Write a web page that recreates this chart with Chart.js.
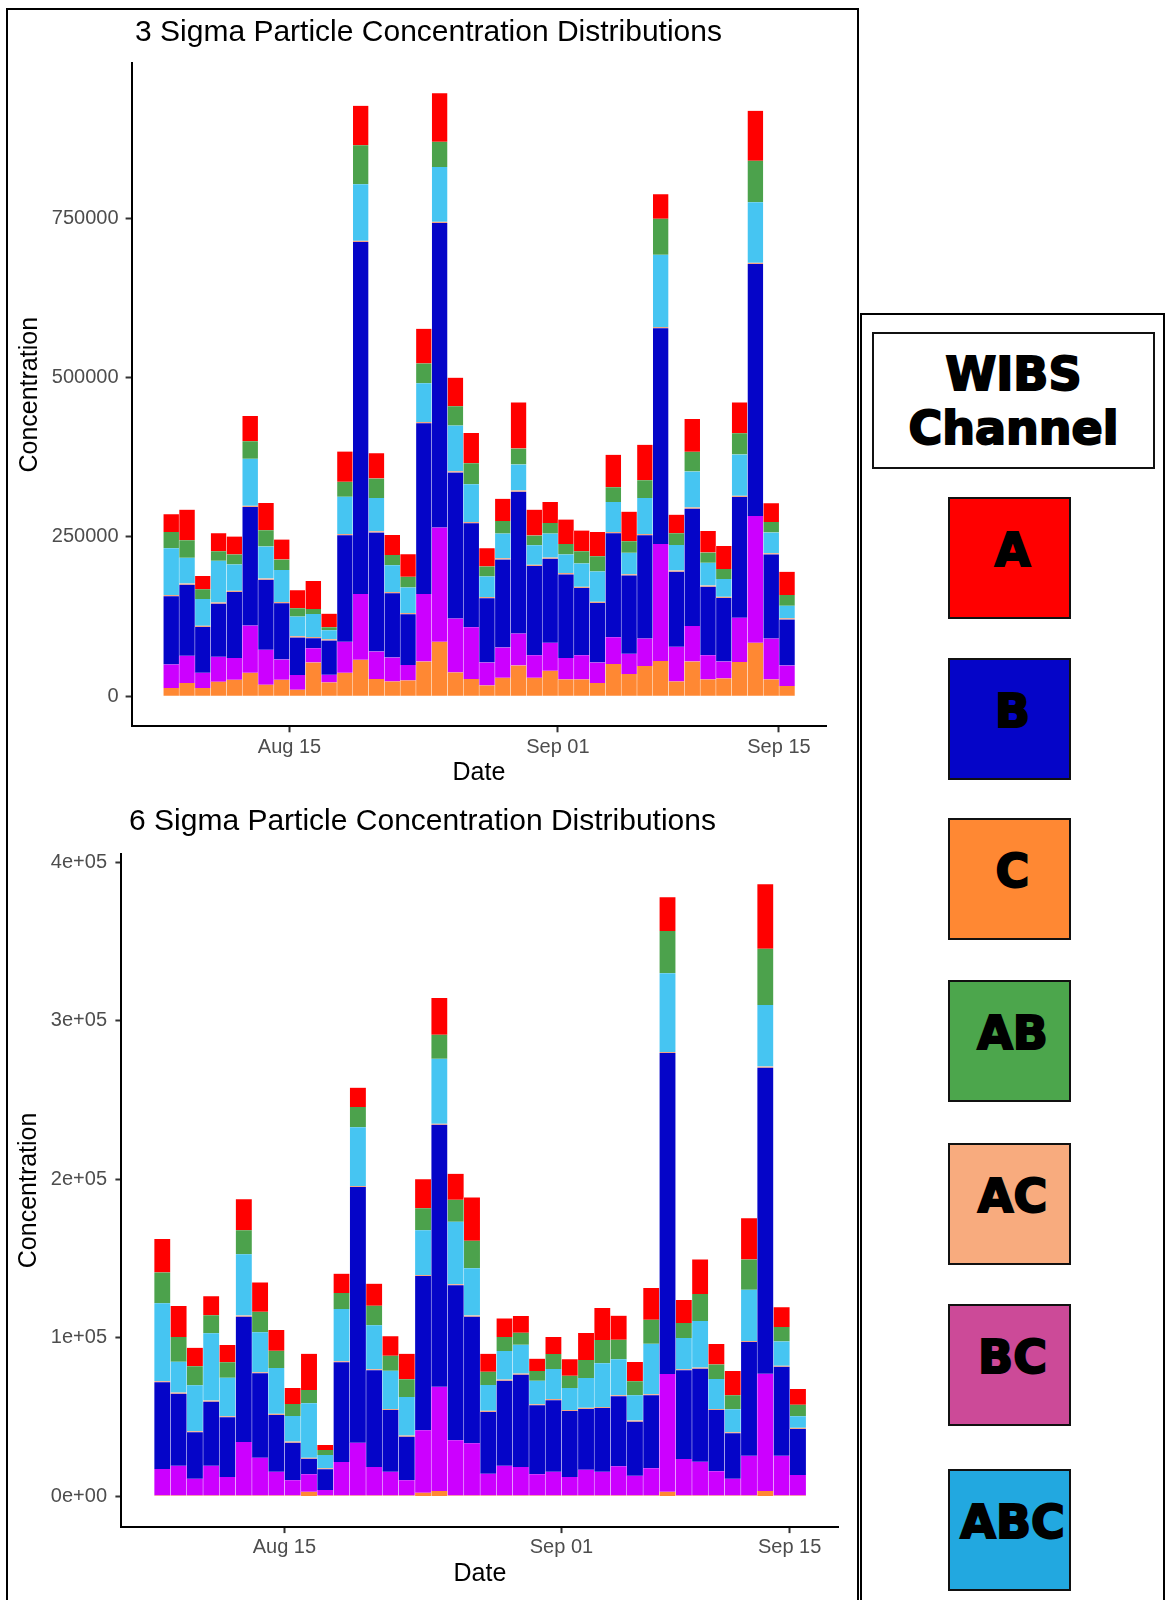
<!DOCTYPE html>
<html>
<head>
<meta charset="utf-8">
<title>WIBS particle concentration distributions</title>
<script src="https://cdn.jsdelivr.net/npm/chart.js@4.4.1/dist/chart.umd.min.js"></script>
<style>
  html, body { margin: 0; padding: 0; background: #fff; }
  body { width: 1165px; height: 1600px; position: relative; overflow: hidden; }
  #frame { position: absolute; left: 6px; top: 8px; width: 853px; height: 1620px;
           border: 2.5px solid #000; box-sizing: border-box; }
  canvas { position: absolute; left: 0; }
  #sigma3 { top: 0; }
  #sigma6 { top: 790px; }
  #legend { position: absolute; left: 860px; top: 313px; width: 305px; height: 1320px;
            border: 2.5px solid #000; box-sizing: border-box; }
  .legend-title, .swatch {
    position: absolute; box-sizing: border-box; border: 2px solid #111;
    display: flex; flex-direction: column; align-items: center; justify-content: center;
    font-family: "DejaVu Sans", sans-serif; font-weight: bold; font-size: 46px;
    color: #000; -webkit-text-stroke: 2px #000;
  }
  .legend-title { left: 872px; top: 332px; width: 283px; height: 137px; line-height: 54px; background: #fff; }
  .swatch { left: 948px; width: 123px; height: 122px; padding-bottom: 16px; padding-left: 6px; line-height: 1; }
</style>
</head>
<body>
<div id="frame"></div>
<canvas id="sigma3" width="857" height="790"></canvas>
<canvas id="sigma6" width="845" height="810"></canvas>
<div id="legend"></div>
<div id="legendItems"></div>
<script>
Chart.defaults.font.family = "'Liberation Sans', Arial, sans-serif";

// one bar per day, Aug 7 .. Sep 15 (day of August; Sep d = 31 + d)
const days = [7, 8, 9, 10, 11, 12, 13, 14, 15, 16, 17, 18, 19, 20, 21, 22, 23, 24, 25, 26,
              27, 28, 29, 30, 31, 32, 33, 34, 35, 36, 37, 38, 39, 40, 41, 42, 43, 44, 45, 46];
const dateTicks = [15, 32, 46];
const dateTickLabels = ["Aug 15", "Sep 01", "Sep 15"];

// stacking order, bottom to top
const channelOrder = ["C", "BC", "B", "AC", "ABC", "AB", "A"];
const barColors = ["#ff8833", "#cc00ff", "#0505c8", "#f4a582", "#46c5f2", "#4ca24c", "#ff0000"];

// 3 sigma threshold, particles per channel
const s3C = [12800, 20600, 12800, 22700, 25800, 36800, 18000, 25800, 10200, 52900, 21600, 36800, 57100, 26900, 23200, 24700, 54400, 85300, 37300, 26900,
             16900, 28900, 48200, 28900, 39900, 26300, 26300, 20600, 50400, 34700, 47200, 55100, 23200, 54400, 26300, 27900, 53500, 83700, 26300, 16000];
const s3BC = [37000, 42800, 24000, 39100, 34000, 74000, 54700, 31800, 22900, 22500, 12000, 48500, 103300, 43200, 37500, 24100, 106000, 179400, 84500, 81300,
              36000, 47500, 50100, 35500, 43800, 33500, 38100, 32300, 42200, 31800, 43200, 184000, 54200, 55900, 38100, 26500, 69800, 199200, 64100, 32200];
const s3B = [106900, 111500, 71900, 83400, 103700, 186200, 110100, 88200, 58900, 15600, 53700, 167400, 552700, 186800, 100700, 79800, 268000, 478100, 229400, 163200,
             100700, 138200, 222700, 139800, 131900, 131400, 105300, 93400, 163200, 123100, 162300, 338400, 117900, 184100, 107400, 99700, 189300, 395600, 132100, 72000];
const s3AC = [2000, 2000, 2000, 2000, 2000, 2000, 2000, 2000, 2000, 2000, 2000, 2000, 2000, 2000, 2000, 2000, 2000, 2000, 2000, 2000,
              2000, 2000, 2000, 2000, 2000, 2000, 2000, 2000, 2000, 2000, 2000, 2000, 2000, 2000, 2000, 2000, 2000, 2000, 2000, 2000];
const s3ABC = [73600, 40300, 41800, 65300, 41300, 73700, 50200, 50100, 30900, 36100, 14300, 58500, 88700, 52100, 42300, 40200, 60900, 86000, 71600, 59500,
               32400, 38700, 40700, 30800, 37700, 29300, 36700, 47600, 47000, 33400, 56300, 113500, 40200, 56400, 35500, 27700, 64800, 95000, 32400, 19900];
const s3AB = [25500, 27600, 15200, 15100, 15700, 27500, 25500, 16700, 13100, 7800, 4700, 23500, 61100, 30800, 16100, 16600, 31200, 39500, 30200, 32900,
              15700, 19700, 25100, 15200, 16600, 16600, 19200, 23900, 23400, 18300, 28200, 56700, 18300, 30800, 16300, 15700, 33300, 65300, 16600, 16700];
const s3A = [27700, 48000, 20800, 28200, 28100, 39700, 42700, 31300, 28100, 43800, 21200, 47400, 62000, 39600, 31300, 35500, 54400, 76200, 45100, 47500,
             28600, 35000, 72400, 40600, 32900, 38100, 32400, 38000, 50700, 46400, 55400, 38400, 29200, 51600, 33800, 36400, 48500, 78200, 29200, 36500];

// 6 sigma threshold
const s6C = [600, 600, 600, 600, 600, 600, 600, 600, 600, 3000, 600, 600, 600, 600, 600, 600, 2400, 3500, 600, 600,
             600, 600, 600, 600, 600, 600, 600, 600, 600, 600, 600, 3000, 600, 600, 600, 600, 600, 3500, 600, 600];
const s6BC = [16700, 18800, 10600, 18800, 11700, 33800, 23900, 15000, 9600, 11000, 3500, 21200, 33300, 18000, 15000, 9600, 39300, 65700, 34800, 32900,
              13800, 18800, 18000, 13400, 15000, 11700, 16300, 15000, 18400, 12500, 17200, 74200, 23000, 21300, 15300, 10600, 25100, 73900, 25100, 13000];
const s6B = [54700, 45400, 29300, 40400, 37600, 79000, 53200, 35800, 23700, 9800, 13000, 62800, 161200, 61000, 38900, 27500, 97300, 165200, 97800, 79900,
             38900, 53600, 58200, 43500, 45100, 41600, 38300, 40200, 44200, 34100, 46000, 202400, 56000, 58700, 38600, 28600, 71700, 193000, 56100, 29000];
const s6AC = [700, 700, 700, 700, 700, 700, 700, 700, 700, 700, 700, 700, 700, 700, 700, 700, 700, 700, 700, 700,
              700, 700, 700, 700, 700, 700, 700, 700, 700, 700, 700, 700, 700, 700, 700, 700, 700, 700, 700, 700];
const s6ABC = [49100, 19500, 28900, 42400, 24300, 38600, 25100, 28900, 16200, 34300, 8400, 32900, 37000, 27600, 24100, 24300, 28100, 40900, 39400, 29800,
               16300, 18000, 18200, 14800, 19000, 13800, 18800, 27500, 22600, 15900, 31800, 49600, 19600, 29400, 18900, 14500, 32300, 38800, 15300, 7300];
const s6AB = [19500, 15600, 12000, 11300, 9700, 15100, 13000, 10900, 7500, 8300, 3100, 10100, 12800, 12400, 9500, 11200, 13900, 15200, 13800, 17400,
              8400, 8900, 7600, 6100, 9400, 7800, 11400, 14700, 12400, 8800, 15200, 26600, 9500, 17000, 9200, 8800, 19100, 35500, 9100, 7300];
const s6A = [21100, 19500, 11700, 12000, 10900, 19600, 18500, 13100, 10100, 22900, 3200, 12200, 12200, 13900, 12200, 16100, 18300, 23100, 16400, 27300,
             11300, 11700, 10500, 7800, 10800, 10300, 17000, 20100, 15100, 12200, 20000, 21300, 14500, 21800, 12800, 15300, 25900, 40600, 12400, 9900];

const s3Ticks = [0, 250000, 500000, 750000];
const s3TickLabels = ["0", "250000", "500000", "750000"];
const s6Ticks = [0, 100000, 200000, 300000, 400000];
const s6TickLabels = ["0e+00", "1e+05", "2e+05", "3e+05", "4e+05"];

// legend panel
const legendChannels = ["A", "B", "C", "AB", "AC", "BC", "ABC"];
const legendColors = ["#ff0000", "#0505c8", "#ff8833", "#4ca64c", "#f8ab7e", "#cc4a98", "#22a8e0"];
const legendTops = [497, 658, 818, 980, 1143, 1304, 1469];

function buildChart(id, titleText, series, yTicks, yTickLabels, box) {
  const totals = days.map((d, i) => series.reduce((s, arr) => s + arr[i], 0));
  const pad = Math.max(...totals) * 0.05;

  new Chart(document.getElementById(id), {
    type: "bar",
    data: {
      datasets: channelOrder.map((ch, k) => ({
        label: ch,
        data: series[k].map((v, i) => ({ x: days[i] + 0.5, y: v })),
        backgroundColor: barColors[k],
        // faint pale seam between neighbouring days
        borderColor: "rgba(255,255,255,0.35)",
        borderWidth: { left: 0.7, right: 0, top: 0, bottom: 0 },
        borderSkipped: false,
        barPercentage: 1,
        categoryPercentage: 1
      }))
    },
    options: {
      responsive: false,
      animation: false,
      layout: { padding: 0 },
      plugins: {
        legend: { display: false },
        tooltip: { enabled: false },
        title: {
          display: true,
          text: titleText,
          color: "#000",
          font: { size: 30, weight: "normal" },
          padding: { top: box.titleTop, bottom: box.titleBottom }
        }
      },
      scales: {
        x: {
          type: "linear",
          stacked: true,
          offset: false,
          min: 5,
          max: 49,
          afterBuildTicks: s => { s.ticks = dateTicks.map(v => ({ value: v })); },
          afterFit: s => { s.height = box.xAxisH; },
          ticks: {
            callback: (v, i) => dateTickLabels[i],
            color: "#4d4d4d",
            font: { size: 20 },
            padding: box.xTickPad,
            maxRotation: 0,
            autoSkip: false
          },
          grid: { offset: false, drawOnChartArea: false, tickLength: 6, tickWidth: 2, tickColor: "#333" },
          border: { color: "#000", width: 2 },
          title: {
            display: true,
            text: "Date",
            color: "#000",
            font: { size: 25 },
            padding: { top: 0, bottom: box.dateBottom }
          }
        },
        y: {
          stacked: true,
          min: -pad,
          max: Math.max(...totals) + pad,
          afterBuildTicks: s => { s.ticks = yTicks.map(v => ({ value: v })); },
          afterFit: s => { s.width = box.yAxisW; },
          ticks: {
            callback: (v, i) => yTickLabels[i],
            color: "#4d4d4d",
            font: { size: 20 },
            padding: box.yTickPad
          },
          grid: { drawOnChartArea: false, tickLength: 6, tickWidth: 2, tickColor: "#333" },
          border: { color: "#000", width: 2 },
          title: {
            display: true,
            text: "Concentration",
            color: "#000",
            font: { size: 25 },
            padding: { top: box.concLeft, bottom: 0 }
          }
        },
        // empty strip on the right so the plot ends where the title centring needs it
        gap: {
          type: "linear",
          position: "right",
          afterFit: s => { s.width = box.gapRight; },
          ticks: { display: false },
          grid: { display: false, drawTicks: false },
          border: { display: false }
        }
      }
    }
  });
}

buildChart("sigma3", "3 Sigma Particle Concentration Distributions",
  [s3C, s3BC, s3B, s3AC, s3ABC, s3AB, s3A], s3Ticks, s3TickLabels,
  { yAxisW: 131.6, gapRight: 30.7, titleTop: 14.5, titleBottom: 12.7, xAxisH: 63.7,
    xTickPad: 3, dateBottom: 1.7, yTickPad: 7, concLeft: 15 });

buildChart("sigma6", "6 Sigma Particle Concentration Distributions",
  [s6C, s6BC, s6B, s6AC, s6ABC, s6AB, s6A], s6Ticks, s6TickLabels,
  { yAxisW: 121.4, gapRight: 6.5, titleTop: 14.2, titleBottom: 13.5, xAxisH: 72.9,
    xTickPad: 2.4, dateBottom: 11, yTickPad: 8.4, concLeft: 14 });

// WIBS channel key
const items = document.getElementById("legendItems");
const head = document.createElement("div");
head.className = "legend-title";
head.innerHTML = "<span>WIBS</span><span>Channel</span>";
items.appendChild(head);
legendChannels.forEach((ch, i) => {
  const el = document.createElement("div");
  el.className = "swatch";
  el.style.top = legendTops[i] + "px";
  el.style.background = legendColors[i];
  el.textContent = ch;
  items.appendChild(el);
});
</script>
</body>
</html>
